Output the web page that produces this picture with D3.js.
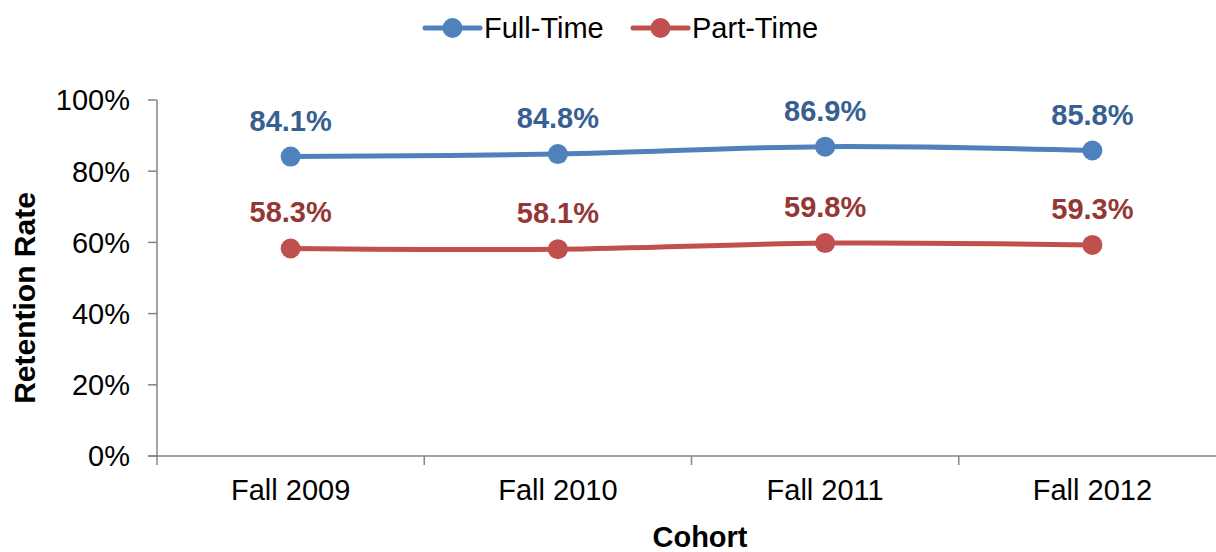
<!DOCTYPE html>
<html>
<head>
<meta charset="utf-8">
<script src="https://cdn.jsdelivr.net/npm/d3@7"></script>
<style>
  body { margin: 0; background: #fff; }
  text { font-family: Arial, "Liberation Sans", sans-serif; }
</style>
</head>
<body>
<div id="chart-area"></div>
<script>
// Retention rate by cohort
const cohorts = ['Fall 2009', 'Fall 2010', 'Fall 2011', 'Fall 2012'];
const fullTime = [0.841, 0.848, 0.869, 0.858];
const partTime = [0.583, 0.581, 0.598, 0.593];
const yTicks = [0, 0.2, 0.4, 0.6, 0.8, 1.0];

const series = [
    { name: 'Full-Time', values: fullTime, color: '#4F81BD', labelColor: '#376092' },
    { name: 'Part-Time', values: partTime, color: '#C0504D', labelColor: '#953735' }
];

const width = 1216;
const height = 552;
const plot = { left: 157, right: 1226, top: 100, bottom: 456 };
const axisColor = '#868686';
const fontSize = 29;

const svg = d3.select('#chart-area')
    .append('svg')
    .attr('width', width)
    .attr('height', height);

const x = d3.scalePoint()
    .domain(cohorts)
    .range([plot.left, plot.right])
    .padding(0.5);

const y = d3.scaleLinear()
    .domain([0, 1])
    .range([plot.bottom, plot.top]);

// y axis
const yAxis = svg.append('g');
yAxis.append('line')
    .attr('x1', plot.left).attr('x2', plot.left)
    .attr('y1', plot.top).attr('y2', plot.bottom)
    .attr('stroke', axisColor).attr('stroke-width', 1.5);
yAxis.selectAll('.ytick')
    .data(yTicks)
    .enter()
    .append('line')
    .attr('x1', plot.left - 9).attr('x2', plot.left)
    .attr('y1', d => y(d)).attr('y2', d => y(d))
    .attr('stroke', axisColor).attr('stroke-width', 1.5);
yAxis.selectAll('.ylabel')
    .data(yTicks)
    .enter()
    .append('text')
    .attr('x', plot.left - 27)
    .attr('y', d => y(d))
    .attr('dy', '0.36em')
    .attr('text-anchor', 'end')
    .attr('font-size', fontSize)
    .attr('fill', '#000')
    .text(d => d3.format('.0%')(d));

// x axis
const step = x.step();
const xAxis = svg.append('g');
xAxis.append('line')
    .attr('x1', plot.left - 9).attr('x2', plot.right)
    .attr('y1', plot.bottom).attr('y2', plot.bottom)
    .attr('stroke', axisColor).attr('stroke-width', 1.5);
xAxis.selectAll('.xtick')
    .data(d3.range(cohorts.length + 1))
    .enter()
    .append('line')
    .attr('x1', i => plot.left + i * step).attr('x2', i => plot.left + i * step)
    .attr('y1', plot.bottom).attr('y2', plot.bottom + 9)
    .attr('stroke', axisColor).attr('stroke-width', 1.5);
xAxis.selectAll('.xlabel')
    .data(cohorts)
    .enter()
    .append('text')
    .attr('x', d => x(d))
    .attr('y', 500)
    .attr('text-anchor', 'middle')
    .attr('font-size', fontSize)
    .attr('fill', '#000')
    .text(d => d);

// axis titles
svg.append('text')
    .attr('transform', 'translate(35, 298) rotate(-90)')
    .attr('text-anchor', 'middle')
    .attr('font-size', 30)
    .attr('font-weight', 'bold')
    .text('Retention Rate');

svg.append('text')
    .attr('x', 700)
    .attr('y', 547)
    .attr('text-anchor', 'middle')
    .attr('font-size', fontSize)
    .attr('font-weight', 'bold')
    .text('Cohort');

// lines, markers, labels
const line = d3.line()
    .x((d, i) => x(cohorts[i]))
    .y(d => y(d))
    .curve(d3.curveCatmullRom.alpha(0.5));

series.forEach(s => {
    const g = svg.append('g');
    g.append('path')
        .datum(s.values)
        .attr('d', line)
        .attr('fill', 'none')
        .attr('stroke', s.color)
        .attr('stroke-width', 5)
        .attr('stroke-linecap', 'round');
    g.selectAll('circle')
        .data(s.values)
        .enter()
        .append('circle')
        .attr('cx', (d, i) => x(cohorts[i]))
        .attr('cy', d => y(d))
        .attr('r', 10)
        .attr('fill', s.color);
    g.selectAll('text')
        .data(s.values)
        .enter()
        .append('text')
        .attr('x', (d, i) => x(cohorts[i]))
        .attr('y', d => y(d) - 26)
        .attr('text-anchor', 'middle')
        .attr('font-size', fontSize)
        .attr('font-weight', 'bold')
        .attr('fill', s.labelColor)
        .text(d => d3.format('.1%')(d));
});

// legend
const legendItems = [
    { s: series[0], x0: 425, tx: 484 },
    { s: series[1], x0: 633, tx: 692 }
];
const legend = svg.append('g');
legendItems.forEach(item => {
    legend.append('line')
        .attr('x1', item.x0).attr('x2', item.x0 + 55)
        .attr('y1', 28).attr('y2', 28)
        .attr('stroke', item.s.color)
        .attr('stroke-width', 5)
        .attr('stroke-linecap', 'round');
    legend.append('circle')
        .attr('cx', item.x0 + 27.5)
        .attr('cy', 28)
        .attr('r', 10)
        .attr('fill', item.s.color);
    legend.append('text')
        .attr('x', item.tx)
        .attr('y', 28)
        .attr('dy', '0.36em')
        .attr('font-size', fontSize)
        .attr('fill', '#000')
        .text(item.s.name);
});
</script>
</body>
</html>
